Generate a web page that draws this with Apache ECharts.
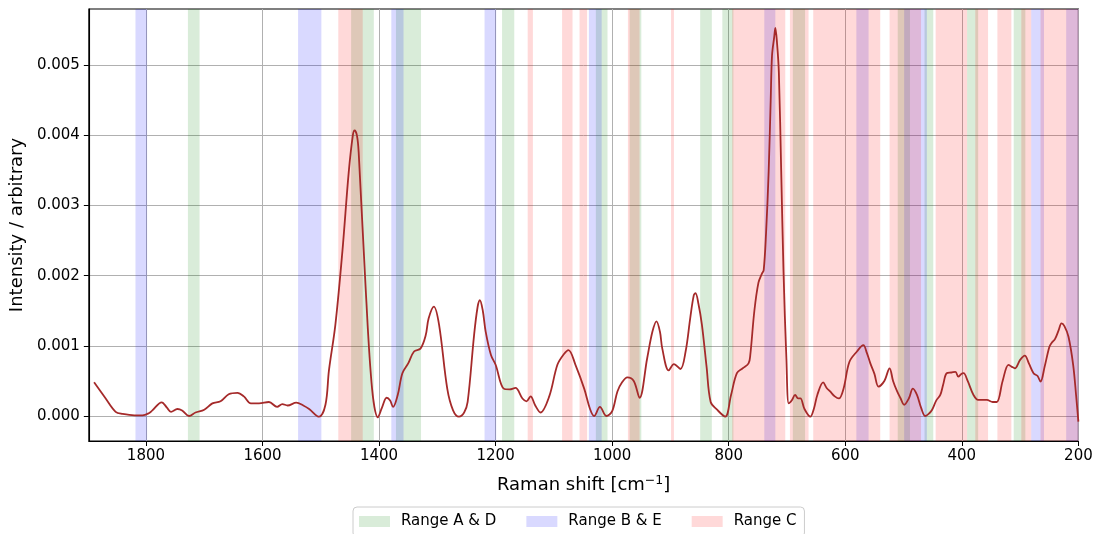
<!DOCTYPE html>
<html><head><meta charset="utf-8">
<script src="https://cdn.jsdelivr.net/npm/echarts@6/dist/echarts.min.js"></script>
<style>html,body{margin:0;padding:0;background:#fff}#c{width:1097px;height:534px}</style>
</head><body><div id="c"></div>
<script>
const shifts = [1889,1870,1852,1840,1820,1806,1795,1789,1773,1764,1757,1746,1738,1726,1715,1700,1686,1672,1658,1643,1632,1620,1606,1589,1575,1566,1557,1542,1530,1520,1503,1492,1486,1475,1463,1452,1445,1442,1438,1435,1423,1412,1402,1395,1387,1381,1376,1368,1360,1350,1340,1329,1320,1315,1306,1297,1283,1273,1263,1254,1248,1237,1231,1227,1222,1217,1208,1200,1186,1176,1166,1154,1147,1140,1132,1123,1108,1094,1083,1075,1063,1048,1038,1031,1021,1010,1000,991,983,974,963,953,940,931,924,918,914,903,894,883,874,866,860,857,852,846,838,831,820,806,796,786,776,766,763,756,749,743,740,736,731.5,728,725.7,722,720,717,714,710,706,701,697,692,686,681,677,670,660,654,648,638,632,626,618,611,603,593,580,569,563,557,550,543,533,524,518,511,505,499,491,484,477,470,463,457,451,444,437,432,426,418,411,406,401,397,390,380,372,357,347,340,330,320,314,309,300,292,285,277,270,265,258,250,246,240,234,229,224,217,209,204,200];
const intensity = [0.00048,0.00026,0.00006,0.00003,0.00001,0.00001,0.00004,0.00008,0.000195,0.00012,0.00006,0.0001,0.00008,0.0,0.00005,0.00009,0.00018,0.00021,0.00031,0.00033,0.00028,0.00018,0.00018,0.0002,0.00013,0.00017,0.00015,0.00019,0.00015,0.0001,-0.00001,0.00016,0.00065,0.0013,0.00234,0.00348,0.0040,0.00407,0.0040,0.00376,0.00182,0.00039,-0.00002,0.00012,0.00026,0.00022,0.00013,0.0003,0.00061,0.00075,0.00092,0.00096,0.00115,0.00139,0.00156,0.0013,0.00039,0.00008,-0.00001,0.00005,0.0002,0.00115,0.00155,0.00165,0.0015,0.0012,0.00087,0.00073,0.00039,0.00038,0.0004,0.00025,0.00021,0.00028,0.00015,0.00005,0.00028,0.00073,0.00088,0.00094,0.00073,0.00039,0.0001,0.0,0.00013,0.0,0.00007,0.00035,0.00048,0.00055,0.0005,0.00026,0.00082,0.0012,0.00135,0.0012,0.00096,0.00065,0.00074,0.00067,0.00092,0.0014,0.00172,0.00175,0.0016,0.0013,0.0007,0.0002,0.00009,-0.00001,0.0003,0.00061,0.00068,0.00075,0.00087,0.0015,0.0019,0.00203,0.00208,0.0026,0.00348,0.0045,0.00514,0.0054,0.00553,0.0053,0.0049,0.0035,0.00206,0.0008,0.00018,0.00022,0.0003,0.00025,0.00025,0.0001,-0.00001,0.0001,0.0003,0.00048,0.0004,0.00035,0.00028,0.00025,0.00039,0.00077,0.00092,0.00101,0.0009,0.00075,0.0006,0.00042,0.0005,0.00068,0.0005,0.00035,0.00025,0.00016,0.00025,0.00039,0.0003,0.00012,0.0,0.00003,0.00009,0.00022,0.0003,0.00045,0.00061,0.00062,0.00063,0.00056,0.0006,0.00061,0.0005,0.0003,0.00023,0.00023,0.0002,0.0002,0.0005,0.00073,0.0007,0.00068,0.0008,0.00086,0.00075,0.00061,0.00057,0.00049,0.0007,0.00098,0.00104,0.0011,0.00122,0.00132,0.00128,0.00113,0.00073,0.0003,-0.00008];
const xTicks = [200,400,600,800,1000,1200,1400,1600,1800];
const yTicks = [0,0.001,0.002,0.003,0.004,0.005];
const rangeAD = [[1708,1728],[1409,1448],[1328,1371],[1168,1189],[1008,1028],[950,970],[829,849],[792,811],[669,690],[489,510],[449,464],[372,391],[291,311]];
const rangeBE = [[1798,1818],[1499,1539],[1358,1379],[1199,1219],[1018,1040],[720,739],[560,581],[460,499],[259,281],[200,221]];
const rangeC = [[1428,1470],[1136,1145],[1068,1086],[1043,1056],[953,973],[894,899],[703,794],[663,695],[540,655],[470,524],[391,445],[355,377],[315,339],[281,298],[200,265]];
const seriesNames = ['Range A & D','Range B & E','Range C'];
const bandColors = ['rgba(0,128,0,0.15)','rgba(0,0,255,0.15)','rgba(255,0,0,0.15)'];

const FONT = 'DejaVu Sans';
const chart = echarts.init(document.getElementById('c'), null, {renderer:'canvas'});
function bandSeries(name, color, ranges){
  return {
    name, type:'line', data:[], color, itemStyle:{color}, lineStyle:{color},
    markArea:{silent:true, itemStyle:{color, opacity:1, borderWidth:0},
      data: ranges.map(r=>[{xAxis:r[0]},{xAxis:r[1]}])},
    z:2
  };
}
chart.setOption({
  animation:false,
  backgroundColor:'#fff',
  textStyle:{fontFamily:FONT},
  grid:{left:88.5, right:18.6, top:9, bottom:93, show:true, borderColor:'#000', borderWidth:1.1, backgroundColor:'transparent'},
  xAxis:{
    type:'value', inverse:true, min:200, max:1898, interval:200,
    name:'Raman shift [cm{s|−1}]', nameLocation:'middle', nameGap:33,
    nameTextStyle:{fontSize:18, color:'#000', fontFamily:FONT, rich:{s:{fontSize:12.5, fontFamily:FONT, color:'#000', padding:[0,0,9,0]}}},
    axisLine:{show:true, onZero:false, lineStyle:{color:'#000', width:1.1}},
    axisTick:{show:true, inside:false, length:5, lineStyle:{color:'#000', width:1}, customValues:xTicks},
    axisLabel:{show:true, margin:8, fontSize:15, color:'#000', fontFamily:FONT, customValues:xTicks, formatter:v=>String(v)},
    splitLine:{show:true, lineStyle:{color:'#b0b0b0', width:1}}
  },
  yAxis:{
    type:'value', min:-0.000356, max:0.0058,
    name:'Intensity / arbitrary', nameLocation:'middle', nameGap:57, nameRotate:90,
    nameTextStyle:{fontSize:18, color:'#000', fontFamily:FONT},
    axisLine:{show:true, onZero:false, lineStyle:{color:'#000', width:1.1}},
    axisTick:{show:true, inside:false, length:5, lineStyle:{color:'#000', width:1}, customValues:yTicks},
    axisLabel:{show:true, margin:9, fontSize:15, color:'#000', fontFamily:FONT, customValues:yTicks, formatter:v=>Number(v).toFixed(3)},
    splitLine:{show:true, lineStyle:{color:'#b0b0b0', width:1}}
  },
  legend:{
    left:353, top:507, orient:'horizontal',
    padding:[7,8,8,6], itemGap:30, itemWidth:31, itemHeight:11,
    backgroundColor:'rgba(255,255,255,0.8)', borderColor:'#cccccc', borderWidth:1, borderRadius:4,
    textStyle:{fontSize:15, color:'#000', fontFamily:FONT, padding:[0,0,0,6]},
    selectedMode:false,
    data: seriesNames.map((n,i)=>({name:n, icon:'rect', itemStyle:{color:bandColors[i]}}))
  },
  series:[
    bandSeries(seriesNames[0], bandColors[0], rangeAD),
    bandSeries(seriesNames[1], bandColors[1], rangeBE),
    bandSeries(seriesNames[2], bandColors[2], rangeC),
    {
      name:'spectrum', type:'line', data:shifts.map((x,i)=>[x,intensity[i]]),
      showSymbol:false, smooth:0.35, clip:true, z:5,
      lineStyle:{color:'#a52a2a', width:1.8}, itemStyle:{color:'#a52a2a'}
    }
  ]
});
</script></body></html>
